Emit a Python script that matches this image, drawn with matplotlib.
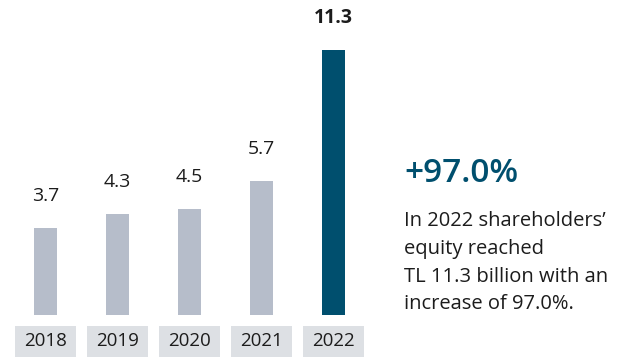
import matplotlib
matplotlib.use("Agg")
import matplotlib.pyplot as plt

# shareholders' equity, TL billion
years = ["2018", "2019", "2020", "2021", "2022"]
equity = [3.7, 4.3, 4.5, 5.7, 11.3]
growth_label = "+97.0%"
note = "In 2022 shareholders’\nequity reached\nTL 11.3 billion with an\nincrease of 97.0%."

bar_grey = "#b6bdca"
bar_dark = "#004f6e"
box_grey = "#dde0e4"
ink = "#1c1c1c"

plt.rcParams["font.family"] = ["Open Sans", "DejaVu Sans"]

W, H = 639, 358
fig = plt.figure(figsize=(W / 100, H / 100), dpi=100)
ax = fig.add_axes([9.5 / W, 43 / H, 360 / W, 305 / H])
ax.set_xlim(-0.5, 4.5)
ax.set_ylim(0, 13)
ax.axis("off")

x = list(range(len(years)))
colors = [bar_grey] * (len(years) - 1) + [bar_dark]
ax.bar(x, equity, width=0.32, color=colors)

# value labels above the bars, last one in bold
for i, v in enumerate(equity):
    last = i == len(equity) - 1
    ax.annotate(f"{v:.1f}", (i, v), xytext=(0, 23), textcoords="offset points",
                ha="center", va="center", fontsize=14, color=ink,
                fontweight="bold" if last else "normal")

# year labels in grey boxes under the axis
ax.bar(x, [1.32] * len(years), bottom=-1.79, width=0.85, color=box_grey, clip_on=False)
for i, yr in enumerate(years):
    ax.text(i, -1.12, yr, ha="center", va="center", fontsize=13.5, color=ink)

fig.text(404 / W, 1 - 173 / H, growth_label, ha="left", va="center",
         fontsize=24, color=bar_dark, fontweight="semibold")
fig.text(404 / W, 1 - 211 / H, note, ha="left", va="top",
         fontsize=14.5, color=ink, linespacing=1.52)

fig.savefig("out.png", dpi=100, facecolor="white")
